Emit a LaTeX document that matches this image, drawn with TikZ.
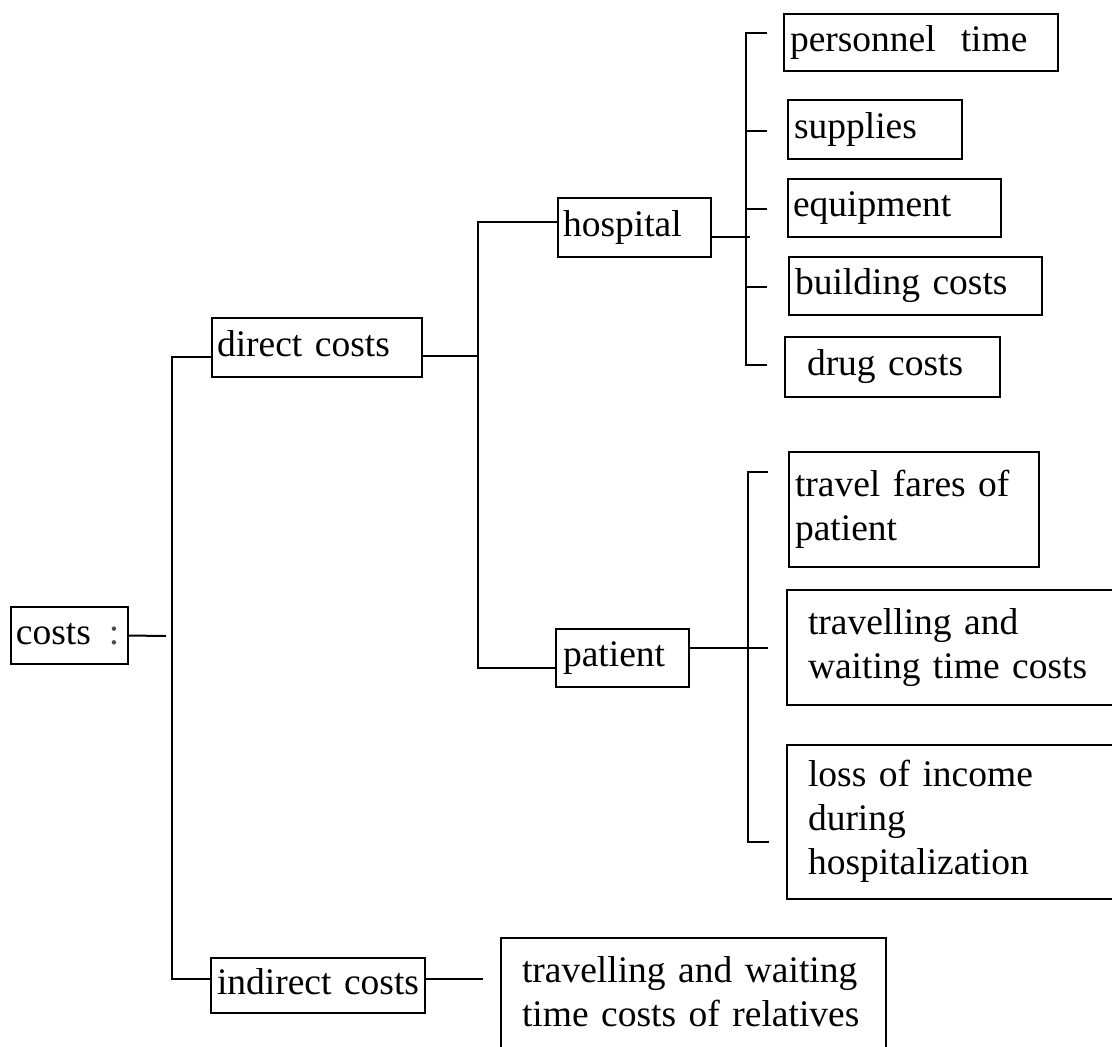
\documentclass[tikz,border=0pt]{standalone}
\usepackage{fontspec}
\setmainfont{Liberation Serif}
\begin{document}
\begin{tikzpicture}[x=1pt,y=-1pt,
  box/.style={draw, line width=2pt, rectangle, anchor=north west, outer sep=0pt,
    inner ysep=0pt, align=left, font=\fontsize{37.5}{44}\selectfont,
    execute at begin node=\strut, execute at end node=\strut},
  conn/.style={line width=2pt}]
\useasboundingbox (0,0) rectangle (1112,1047);
% level 0 and 1
\node[box, minimum height=57pt, inner xsep=5pt, text width=107pt] (cs) at (11,607) {\mbox{costs\hspace{18pt}{\color{black!70}:}}};
\node[box, minimum height=59pt, inner xsep=5pt, text width=200pt] (dc) at (212,318) {\mbox{direct costs}};
\node[box, minimum height=55pt, inner xsep=6pt, text width=202pt] (ic) at (211,958) {\mbox{indirect costs}};
% level 2
\node[box, minimum height=59pt, inner xsep=5pt, text width=143pt] (hp) at (558,198) {hospital};
\node[box, minimum height=58pt, inner xsep=7pt, text width=119pt] (pa) at (556,629) {patient};
% hospital items
\node[box, minimum height=57pt, inner xsep=6pt, text width=262pt] (pt) at (784,14) {\mbox{personnel\ \ time}};
\node[box, minimum height=59pt, inner xsep=6pt, text width=162pt] (su) at (788,100) {supplies};
\node[box, minimum height=58pt, inner xsep=5pt, text width=203pt] (eq) at (788,179) {equipment};
\node[box, minimum height=58pt, inner xsep=6pt, text width=241pt] (bc) at (789,257) {\mbox{building costs}};
\node[box, minimum height=60pt, inner xsep=22pt, text width=171pt] (dr) at (785,337) {\mbox{drug costs}};
% patient items
\node[box, minimum height=115pt, inner xsep=6pt, text width=238pt] (tf) at (789,452) {\mbox{travel fares of}\\patient};
\node[box, minimum height=115pt, inner xsep=21pt, text width=296pt] (tw) at (787,590) {\mbox{travelling and}\\\mbox{waiting time costs}};
\node[box, minimum height=154pt, inner xsep=21pt, text width=296pt] (li) at (787,745) {\mbox{loss of income}\\during\\hospitalization};
% indirect item
\node[box, minimum height=116pt, inner xsep=21pt, text width=343pt] (re) at (501,938) {\mbox{travelling and waiting}\\\mbox{time costs of relatives}};
% free ends
\coordinate (csend) at (166,636);
\coordinate (s1t) at (172,357);
\coordinate (s1b) at (172,979);
\coordinate (s2m) at (478,356);
\coordinate (s2t) at (478,222);
\coordinate (s2b) at (478,668);
\coordinate (hpend) at (750,237);
\coordinate (paend) at (768,648);
\coordinate (icend) at (483,979);
% connectors
\draw[conn] (cs.east) -- (csend);
\draw[conn] ([yshift=-9.5pt]dc.west) -- (s1t) -- (s1b) -- ([yshift=6.5pt]ic.west);
\draw[conn] ([yshift=-8.5pt]dc.east) -- (s2m);
\draw[conn] ([yshift=5.5pt]hp.west) -- (s2t) -- (s2b) -- ([yshift=-10pt]pa.west);
\draw[conn] ([yshift=-9.5pt]hp.east) -- (hpend);
\draw[conn] ([yshift=10pt]pa.east) -- (paend);
\draw[conn] ([yshift=6.5pt]ic.east) -- (icend);
% bracket for hospital items
\draw[conn] (767,33) -- (746,33) -- (746,365) -- (767,365);
\draw[conn] (746,131) -- (767,131);
\draw[conn] (746,209) -- (767,209);
\draw[conn] (746,287) -- (767,287);
% bracket for patient items
\draw[conn] (768,472) -- (748,472) -- (748,842) -- (769,842);
\end{tikzpicture}
\end{document}
